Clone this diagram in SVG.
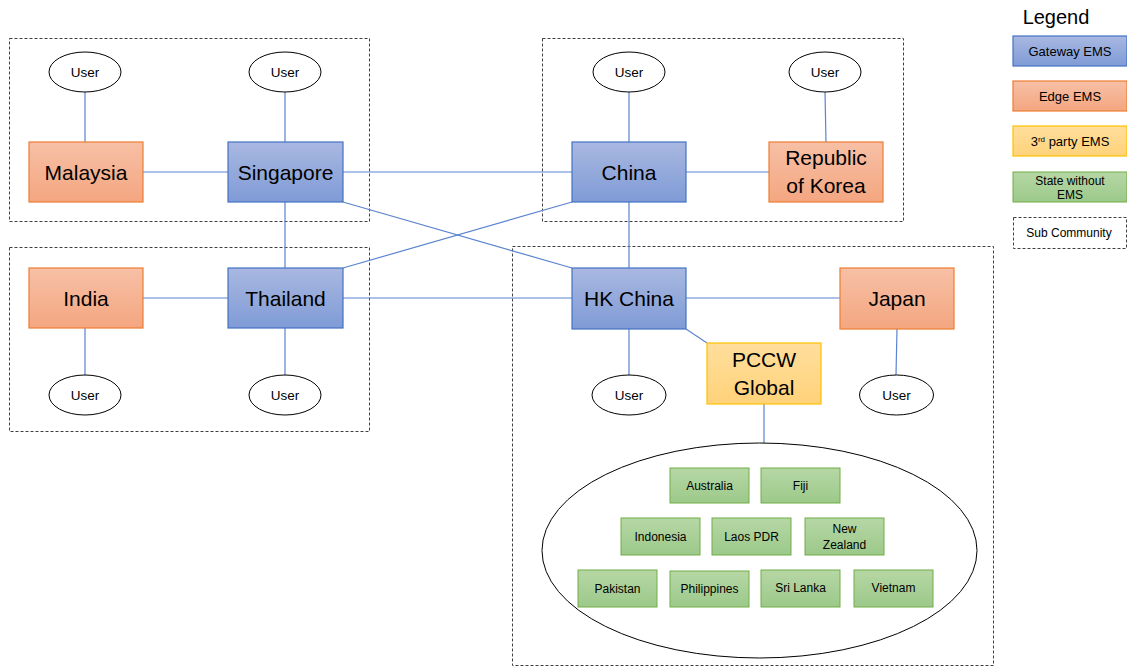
<svg xmlns="http://www.w3.org/2000/svg" width="1127" height="666" viewBox="0 0 1127 666">
<defs>
<linearGradient id="gBlue" x1="0" y1="0" x2="0" y2="1"><stop offset="0" stop-color="#A9B8E1"/><stop offset="1" stop-color="#7F9BD6"/></linearGradient>
<linearGradient id="gOrange" x1="0" y1="0" x2="0" y2="1"><stop offset="0" stop-color="#F7C0A6"/><stop offset="1" stop-color="#F4A680"/></linearGradient>
<linearGradient id="gYellow" x1="0" y1="0" x2="0" y2="1"><stop offset="0" stop-color="#FFDE9C"/><stop offset="1" stop-color="#FFD27A"/></linearGradient>
<linearGradient id="gGreen" x1="0" y1="0" x2="0" y2="1"><stop offset="0" stop-color="#B6D7A5"/><stop offset="1" stop-color="#9CC98A"/></linearGradient>
<style>
text{font-family:"Liberation Sans",Arial,sans-serif;fill:#000;text-anchor:middle}
.sub{fill:none;stroke:#404040;stroke-width:1;stroke-dasharray:3,2}
.gw{fill:url(#gBlue);stroke:#4472C4;stroke-width:1.2}
.ed{fill:url(#gOrange);stroke:#ED7D31;stroke-width:1.2}
.tp{fill:url(#gYellow);stroke:#FFC000;stroke-width:1.2}
.st{fill:url(#gGreen);stroke:#70AD47;stroke-width:1}
.usr{fill:#fff;stroke:#000;stroke-width:1}
.big{font-size:21px}
.u{font-size:13.5px}
.s{font-size:12px}
.lg{font-size:13px}
#connectors line{stroke:#5B83CF;stroke-width:1.2}
</style>
</defs>
<rect width="1127" height="666" fill="#fff"/>

<g id="subcommunities">
<rect class="sub" x="9.5" y="38.5" width="360" height="183"/>
<rect class="sub" x="542.5" y="38.5" width="361" height="183"/>
<rect class="sub" x="9.5" y="247.5" width="360" height="184"/>
<rect class="sub" x="512.5" y="246.5" width="481" height="419"/>
</g>

<g id="connectors">
<line x1="85" y1="92" x2="85" y2="142"/>
<line x1="285" y1="92" x2="285" y2="142"/>
<line x1="629" y1="92" x2="629" y2="142"/>
<line x1="825" y1="92" x2="826" y2="142"/>
<line x1="143" y1="172" x2="228" y2="172"/>
<line x1="343" y1="172" x2="572" y2="172"/>
<line x1="686" y1="172" x2="769" y2="172"/>
<line x1="285" y1="202" x2="285" y2="268"/>
<line x1="629" y1="202" x2="629" y2="268"/>
<line x1="343" y1="202" x2="572" y2="268"/>
<line x1="572" y1="202" x2="343" y2="268"/>
<line x1="143" y1="298" x2="228" y2="298"/>
<line x1="343" y1="298" x2="572" y2="298"/>
<line x1="686" y1="298" x2="840" y2="298"/>
<line x1="85" y1="328" x2="85" y2="375"/>
<line x1="285" y1="328" x2="285" y2="375"/>
<line x1="629" y1="329" x2="629" y2="375"/>
<line x1="897" y1="329" x2="896" y2="375"/>
<line x1="686" y1="329" x2="707" y2="343"/>
<line x1="764" y1="404" x2="764" y2="443"/>
</g>

<g id="user-malaysia"><ellipse class="usr" cx="85" cy="72" rx="36" ry="20"/><text class="u" x="85" y="77">User</text></g>
<g id="user-singapore"><ellipse class="usr" cx="285" cy="72" rx="36" ry="20"/><text class="u" x="285" y="77">User</text></g>
<g id="user-china"><ellipse class="usr" cx="629" cy="72" rx="36" ry="20"/><text class="u" x="629" y="77">User</text></g>
<g id="user-korea"><ellipse class="usr" cx="825" cy="72" rx="36" ry="20"/><text class="u" x="825" y="77">User</text></g>
<g id="user-india"><ellipse class="usr" cx="85" cy="395" rx="36" ry="20"/><text class="u" x="85" y="400">User</text></g>
<g id="user-thailand"><ellipse class="usr" cx="285" cy="395" rx="36" ry="20"/><text class="u" x="285" y="400">User</text></g>
<g id="user-hk"><ellipse class="usr" cx="629" cy="395" rx="37" ry="20"/><text class="u" x="629" y="400">User</text></g>
<g id="user-japan"><ellipse class="usr" cx="896.5" cy="395" rx="37" ry="20"/><text class="u" x="896.5" y="400">User</text></g>

<g id="malaysia"><rect class="ed" x="29" y="142" width="114" height="60"/><text class="big" x="86" y="179.5">Malaysia</text></g>
<g id="singapore"><rect class="gw" x="228" y="142" width="115" height="60"/><text class="big" x="285.5" y="179.5">Singapore</text></g>
<g id="china"><rect class="gw" x="572" y="142" width="114" height="60"/><text class="big" x="629" y="179.5">China</text></g>
<g id="korea"><rect class="ed" x="769" y="142" width="114" height="60"/><text class="big" x="826" y="165">Republic</text><text class="big" x="826" y="193">of Korea</text></g>
<g id="india"><rect class="ed" x="29" y="268" width="114" height="60"/><text class="big" x="86" y="305.5">India</text></g>
<g id="thailand"><rect class="gw" x="228" y="268" width="115" height="60"/><text class="big" x="285.5" y="305.5">Thailand</text></g>
<g id="hkchina"><rect class="gw" x="572" y="268" width="114" height="61"/><text class="big" x="629" y="306">HK China</text></g>
<g id="japan"><rect class="ed" x="840" y="268" width="114" height="61"/><text class="big" x="897" y="306">Japan</text></g>
<g id="pccw"><rect class="tp" x="707" y="343" width="114" height="61"/><text class="big" x="764" y="367">PCCW</text><text class="big" x="764" y="395">Global</text></g>

<g id="states">
<ellipse class="usr" cx="759.5" cy="550.5" rx="217.5" ry="107.5"/>
<g id="australia"><rect class="st" x="670" y="468" width="79" height="35"/><text class="s" x="709.5" y="490">Australia</text></g>
<g id="fiji"><rect class="st" x="761" y="468" width="79" height="35"/><text class="s" x="800.5" y="490">Fiji</text></g>
<g id="indonesia"><rect class="st" x="621" y="518" width="79" height="37"/><text class="s" x="660.5" y="541">Indonesia</text></g>
<g id="laos"><rect class="st" x="712" y="518" width="79" height="37"/><text class="s" x="751.5" y="541">Laos PDR</text></g>
<g id="newzealand"><rect class="st" x="805" y="518" width="79" height="37"/><text class="s" x="844.5" y="533">New</text><text class="s" x="844.5" y="549">Zealand</text></g>
<g id="pakistan"><rect class="st" x="578" y="570" width="79" height="37"/><text class="s" x="617.5" y="593">Pakistan</text></g>
<g id="philippines"><rect class="st" x="670" y="571" width="79" height="36"/><text class="s" x="709.5" y="593">Philippines</text></g>
<g id="srilanka"><rect class="st" x="761" y="570" width="79" height="37"/><text class="s" x="800.5" y="592">Sri Lanka</text></g>
<g id="vietnam"><rect class="st" x="854" y="570" width="79" height="37"/><text class="s" x="893.5" y="592">Vietnam</text></g>
</g>

<g id="legend">
<text x="1056" y="24" style="font-size:20px">Legend</text>
<rect class="gw" x="1013" y="36" width="114" height="30"/><text class="lg" x="1070" y="55.5">Gateway EMS</text>
<rect class="ed" x="1013" y="81" width="114" height="30"/><text class="lg" x="1070" y="100.5">Edge EMS</text>
<rect class="tp" x="1013" y="126" width="114" height="30"/><text class="lg" x="1070" y="145.5">3<tspan style="font-size:8px" baseline-shift="super">rd</tspan> party EMS</text>
<rect class="st" x="1013" y="172" width="114" height="30"/><text class="s" x="1070" y="184.5">State without</text><text class="s" x="1070" y="199">EMS</text>
<rect class="sub" x="1013.5" y="217.5" width="113" height="31"/><text class="s" x="1069" y="237">Sub Community</text>
</g>
</svg>
